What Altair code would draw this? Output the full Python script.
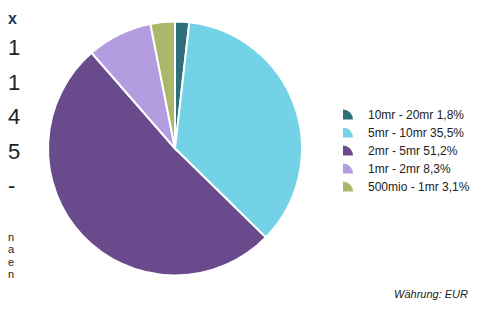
import math
import altair as alt
import pandas as pd

# ---- data ----
labels = ["10mr - 20mr", "5mr - 10mr", "2mr - 5mr", "1mr - 2mr", "500mio - 1mr"]
values = [1.8, 35.5, 51.2, 8.3, 3.1]
value_text = ["1,8%", "35,5%", "51,2%", "8,3%", "3,1%"]
colors = ["#2F6F7B", "#73D2E6", "#694A8C", "#B39CE0", "#AAB86A"]

left_big = ["1", "1", "4", "5", "-"]
left_small = ["n", "a", "e", "n"]
footnote = "Währung: EUR"

W, H = 466, 295
CX, CY, R = 167, 140.5, 127

pie_df = pd.DataFrame({"label": labels, "value": values, "order": list(range(len(labels)))})
leg_df = pd.DataFrame({
    "label": labels,
    "text": [f"{l} {t}" for l, t in zip(labels, value_text)],
    "order": list(range(len(labels))),
})

color_scale = alt.Scale(domain=labels, range=colors)

pie = alt.Chart(pie_df).mark_arc(radius=R, stroke="white", strokeWidth=2).encode(
    theta=alt.Theta("value:Q", stack=True),
    color=alt.Color("label:N", scale=color_scale, legend=None),
    order=alt.Order("order:Q"),
    x=alt.value(CX),
    y=alt.value(CY),
)

leg_y = alt.Y("label:N", sort=labels, scale=alt.Scale(type="point", range=[107, 179], padding=0), axis=None)

leg_sym = alt.Chart(leg_df).mark_arc(radius=10, theta=0, theta2=math.pi / 2, yOffset=4.5).encode(
    y=leg_y,
    x=alt.value(335),
    color=alt.Color("label:N", scale=color_scale, legend=None),
)

leg_txt = alt.Chart(leg_df).mark_text(
    align="left", baseline="middle", font="Liberation Sans", fontSize=12, color="#222222"
).encode(y=leg_y, x=alt.value(360), text="text:N")

foot = alt.Chart(pd.DataFrame({"t": [footnote]})).mark_text(
    align="right", baseline="middle", font="Liberation Sans", fontSize=11, fontStyle="italic", color="#222222"
).encode(x=alt.value(460), y=alt.value(287), text="t:N")

x_mark = alt.Chart(pd.DataFrame({"t": ["x"]})).mark_text(
    align="left", baseline="middle", font="Liberation Sans", fontSize=16, fontWeight="bold", color="#1F3864"
).encode(x=alt.value(0), y=alt.value(11), text="t:N")

big_df = pd.DataFrame({"t": left_big, "i": list(range(len(left_big)))})
big_txt = alt.Chart(big_df).mark_text(
    align="left", baseline="middle", font="Liberation Sans", fontSize=22, color="#222222"
).encode(
    x=alt.value(0),
    y=alt.Y("i:O", scale=alt.Scale(type="point", range=[40, 178], padding=0), axis=None),
    text="t:N",
)

small_df = pd.DataFrame({"t": left_small, "i": list(range(len(left_small)))})
small_txt = alt.Chart(small_df).mark_text(
    align="left", baseline="middle", font="Liberation Sans", fontSize=11, color="#222222"
).encode(
    x=alt.value(0),
    y=alt.Y("i:O", scale=alt.Scale(type="point", range=[230, 267], padding=0), axis=None),
    text="t:N",
)

chart = alt.layer(pie, leg_sym, leg_txt, foot, x_mark, big_txt, small_txt).resolve_scale(
    y="independent"
).properties(
    width=W, height=H, autosize=alt.AutoSizeParams(type="none"), padding=0
).configure_view(stroke=None)

chart.save("out.html", embed_options={"renderer": "svg", "actions": False})
